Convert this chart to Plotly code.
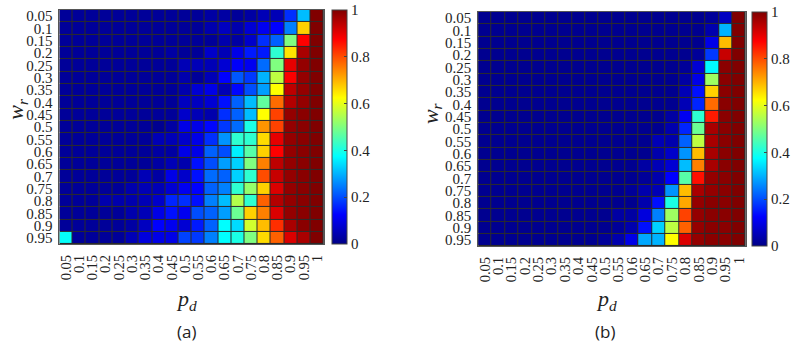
import plotly.graph_objects as go

pd_labels = ["0.05","0.1","0.15","0.2","0.25","0.3","0.35","0.4","0.45","0.5",
             "0.55","0.6","0.65","0.7","0.75","0.8","0.85","0.9","0.95","1"]
wr_labels = ["0.05","0.1","0.15","0.2","0.25","0.3","0.35","0.4","0.45","0.5",
             "0.55","0.6","0.65","0.7","0.75","0.8","0.85","0.9","0.95"]

# panel (a): rows = w_r (0.05 .. 0.95), columns = p_d (0.05 .. 1)
z_a = [
 [0.02,0.02,0.02,0.02,0.02,0.02,0.02,0.02,0.02,0.02,0.02,0.03,0.03,0.02,0.03,0.05,0.05,0.17,0.31,1.0],
 [0.02,0.02,0.02,0.02,0.02,0.02,0.02,0.02,0.02,0.02,0.02,0.04,0.06,0.04,0.08,0.11,0.125,0.25,0.67,1.0],
 [0.02,0.02,0.02,0.02,0.02,0.02,0.02,0.02,0.02,0.02,0.02,0.02,0.04,0.03,0.07,0.17,0.22,0.50,0.875,1.0],
 [0.02,0.02,0.02,0.02,0.02,0.02,0.02,0.02,0.03,0.02,0.02,0.07,0.05,0.10,0.15,0.15,0.42,0.65,0.96,1.0],
 [0.02,0.02,0.02,0.02,0.02,0.02,0.02,0.02,0.02,0.05,0.05,0.05,0.08,0.12,0.11,0.23,0.50,0.90,0.98,1.0],
 [0.02,0.02,0.02,0.02,0.02,0.02,0.02,0.02,0.02,0.04,0.02,0.05,0.125,0.21,0.18,0.30,0.56,0.88,0.98,1.0],
 [0.02,0.02,0.02,0.02,0.02,0.02,0.02,0.02,0.02,0.04,0.08,0.10,0.05,0.13,0.20,0.28,0.625,0.94,0.98,1.0],
 [0.02,0.02,0.02,0.02,0.02,0.02,0.02,0.02,0.02,0.06,0.06,0.08,0.14,0.22,0.31,0.47,0.77,0.95,0.98,1.0],
 [0.02,0.02,0.02,0.02,0.02,0.02,0.02,0.02,0.02,0.07,0.05,0.04,0.17,0.22,0.31,0.625,0.81,0.98,0.99,1.0],
 [0.02,0.02,0.02,0.02,0.02,0.02,0.02,0.01,0.03,0.10,0.10,0.13,0.18,0.23,0.40,0.73,0.81,0.98,0.99,1.0],
 [0.02,0.02,0.02,0.02,0.02,0.02,0.02,0.05,0.05,0.07,0.10,0.17,0.27,0.42,0.42,0.66,0.90,0.98,0.99,1.0],
 [0.02,0.02,0.02,0.02,0.02,0.02,0.02,0.03,0.03,0.10,0.10,0.22,0.20,0.36,0.46,0.67,0.875,0.98,0.99,1.0],
 [0.02,0.02,0.02,0.02,0.02,0.02,0.02,0.03,0.05,0.04,0.14,0.20,0.28,0.33,0.50,0.75,0.94,0.98,0.99,1.0],
 [0.02,0.02,0.02,0.02,0.02,0.02,0.05,0.03,0.10,0.07,0.14,0.23,0.22,0.33,0.42,0.80,0.93,0.98,0.99,1.0],
 [0.02,0.02,0.02,0.02,0.02,0.04,0.05,0.05,0.08,0.11,0.125,0.22,0.25,0.42,0.52,0.67,0.91,0.98,0.99,1.0],
 [0.02,0.02,0.02,0.04,0.04,0.04,0.05,0.07,0.16,0.17,0.14,0.25,0.31,0.55,0.42,0.78,0.95,0.98,0.99,1.0],
 [0.02,0.02,0.02,0.02,0.02,0.04,0.05,0.10,0.14,0.11,0.20,0.22,0.28,0.48,0.67,0.75,0.91,0.98,0.99,1.0],
 [0.02,0.02,0.02,0.02,0.02,0.03,0.06,0.125,0.11,0.08,0.15,0.22,0.375,0.34,0.58,0.69,0.83,0.96,0.99,1.0],
 [0.38,0.02,0.02,0.02,0.02,0.05,0.09,0.10,0.10,0.19,0.18,0.25,0.375,0.40,0.50,0.66,0.78,0.91,0.96,1.0],
]

# panel (b)
z_b = [
 [0.01,0.01,0.01,0.01,0.01,0.01,0.01,0.01,0.01,0.01,0.01,0.01,0.01,0.01,0.01,0.01,0.01,0.02,0.06,1.0],
 [0.01,0.01,0.01,0.01,0.01,0.01,0.01,0.01,0.01,0.01,0.01,0.01,0.01,0.01,0.01,0.01,0.01,0.04,0.30,1.0],
 [0.01,0.01,0.01,0.01,0.01,0.01,0.01,0.01,0.01,0.01,0.01,0.01,0.01,0.01,0.01,0.01,0.01,0.10,0.69,1.0],
 [0.01,0.01,0.01,0.01,0.01,0.01,0.01,0.01,0.01,0.01,0.01,0.01,0.01,0.01,0.01,0.01,0.02,0.18,0.93,1.0],
 [0.01,0.01,0.01,0.01,0.01,0.01,0.01,0.01,0.01,0.01,0.01,0.01,0.01,0.01,0.01,0.02,0.08,0.37,0.99,1.0],
 [0.01,0.01,0.01,0.01,0.01,0.01,0.01,0.01,0.01,0.01,0.01,0.01,0.01,0.01,0.01,0.03,0.10,0.53,0.99,1.0],
 [0.01,0.01,0.01,0.01,0.01,0.01,0.01,0.01,0.01,0.01,0.01,0.01,0.01,0.01,0.01,0.05,0.14,0.67,0.99,1.0],
 [0.01,0.01,0.01,0.01,0.01,0.01,0.01,0.01,0.01,0.01,0.01,0.01,0.01,0.01,0.01,0.05,0.16,0.77,0.99,1.0],
 [0.01,0.01,0.01,0.01,0.01,0.01,0.01,0.01,0.01,0.01,0.01,0.01,0.01,0.01,0.03,0.11,0.42,0.85,0.99,1.0],
 [0.01,0.01,0.01,0.01,0.01,0.01,0.01,0.01,0.01,0.01,0.01,0.01,0.01,0.01,0.04,0.16,0.48,0.96,0.99,1.0],
 [0.01,0.01,0.01,0.01,0.01,0.01,0.01,0.01,0.01,0.01,0.01,0.01,0.01,0.05,0.04,0.22,0.56,0.96,0.99,1.0],
 [0.01,0.01,0.01,0.01,0.01,0.01,0.01,0.01,0.01,0.01,0.01,0.01,0.01,0.04,0.07,0.27,0.69,0.96,0.99,1.0],
 [0.01,0.01,0.01,0.01,0.01,0.01,0.01,0.01,0.01,0.01,0.01,0.01,0.03,0.05,0.08,0.31,0.75,0.96,0.99,1.0],
 [0.01,0.01,0.01,0.01,0.01,0.01,0.01,0.01,0.01,0.01,0.01,0.01,0.02,0.04,0.125,0.46,0.86,0.98,0.99,1.0],
 [0.01,0.01,0.01,0.01,0.01,0.01,0.01,0.01,0.01,0.01,0.01,0.02,0.04,0.05,0.27,0.69,0.96,0.98,0.99,1.0],
 [0.01,0.01,0.01,0.01,0.01,0.01,0.01,0.01,0.01,0.01,0.01,0.01,0.04,0.14,0.40,0.71,0.98,0.99,0.99,1.0],
 [0.01,0.01,0.01,0.01,0.01,0.01,0.01,0.01,0.01,0.01,0.03,0.03,0.09,0.25,0.53,0.81,0.98,0.99,0.99,1.0],
 [0.01,0.01,0.01,0.01,0.01,0.01,0.01,0.01,0.01,0.01,0.02,0.04,0.14,0.33,0.56,0.78,0.98,0.99,0.99,1.0],
 [0.01,0.01,0.01,0.01,0.01,0.01,0.01,0.01,0.01,0.02,0.04,0.10,0.29,0.30,0.625,0.91,0.98,0.99,0.99,1.0],
]

jet = [[0.0, "#000086"], [0.125, "#0000ff"], [0.375, "#00ffff"],
       [0.625, "#ffff00"], [0.875, "#ff0000"], [1.0, "#800000"]]

W, H = 797, 348
serif = "Liberation Serif"

def px_x(v):
    return v / W

def px_y(v):
    return 1 - v / H

def cbar(x0, ytop, ybot):
    return dict(
        x=px_x(x0), xanchor="left", xpad=0, ypad=0,
        y=px_y(ytop), yanchor="top", len=(ybot - ytop) / H, lenmode="fraction",
        thickness=15, outlinewidth=1, outlinecolor="#444",
        tickmode="array", tickvals=[0, 0.2, 0.4, 0.6, 0.8, 1],
        ticktext=["0", "0.2", "0.4", "0.6", "0.8", "1"],
        ticks="inside", ticklen=3, tickcolor="#444",
        tickfont=dict(family=serif, size=15, color="#222"),
    )

fig = go.Figure()
fig.add_trace(go.Heatmap(z=z_a, x=pd_labels, y=wr_labels, colorscale=jet, zmin=0, zmax=1,
                         xgap=1, ygap=1, xaxis="x", yaxis="y",
                         colorbar=cbar(331, 8, 245)))
fig.add_trace(go.Heatmap(z=z_b, x=pd_labels, y=wr_labels, colorscale=jet, zmin=0, zmax=1,
                         xgap=1, ygap=1, xaxis="x2", yaxis="y2",
                         colorbar=cbar(753, 10, 247)))

def xax(x0, x1, anchor):
    return dict(domain=[px_x(x0), px_x(x1)], anchor=anchor, type="category",
                tickmode="array", tickvals=pd_labels, ticktext=pd_labels,
                tickangle=-90, ticks="", ticklabelstandoff=4,
                tickfont=dict(family=serif, size=14.5, color="#222"),
                showline=True, linecolor="#555", linewidth=1, mirror=True,
                showgrid=False, zeroline=False, fixedrange=True)

def yax(ytop, ybot, anchor):
    return dict(domain=[px_y(ybot), px_y(ytop)], anchor=anchor, type="category",
                autorange="reversed",
                tickmode="array", tickvals=wr_labels, ticktext=wr_labels,
                ticks="", ticklabelstandoff=3,
                tickfont=dict(family=serif, size=15, color="#222"),
                showline=True, linecolor="#555", linewidth=1, mirror=True,
                showgrid=False, zeroline=False, fixedrange=True)

def ann(x, y, text, size, family, angle=0, color="#222"):
    return dict(x=px_x(x), y=px_y(y), xref="paper", yref="paper", text=text,
                showarrow=False, xanchor="center", yanchor="middle",
                textangle=angle, font=dict(family=family, size=size, color=color))

annotations = [
    ann(185, 301, "<i>p</i><sub><i>d</i></sub>", 22, serif),
    ann(607, 301, "<i>p</i><sub><i>d</i></sub>", 22, serif),
    ann(15, 108, "<i>w</i><sub><i>r</i></sub>", 22, serif, angle=-90),
    ann(431, 112, "<i>w</i><sub><i>r</i></sub>", 22, serif, angle=-90),
    ann(185, 333, "(a)", 17, "Open Sans"),
    ann(605, 333, "(b)", 17, "Open Sans"),
]

fig.update_layout(
    width=W, height=H, margin=dict(l=0, r=0, t=0, b=0),
    paper_bgcolor="white", plot_bgcolor="#2b2b2b",
    xaxis=xax(57.7, 323, "y"), yaxis=yax(8, 245, "x"),
    xaxis2=xax(478, 746.5, "y2"), yaxis2=yax(10, 247, "x2"),
    annotations=annotations, showlegend=False,
)

fig.write_html("out.html", config={"displayModeBar": False},
               post_script="document.body.style.margin='0';document.body.style.padding='0';")
